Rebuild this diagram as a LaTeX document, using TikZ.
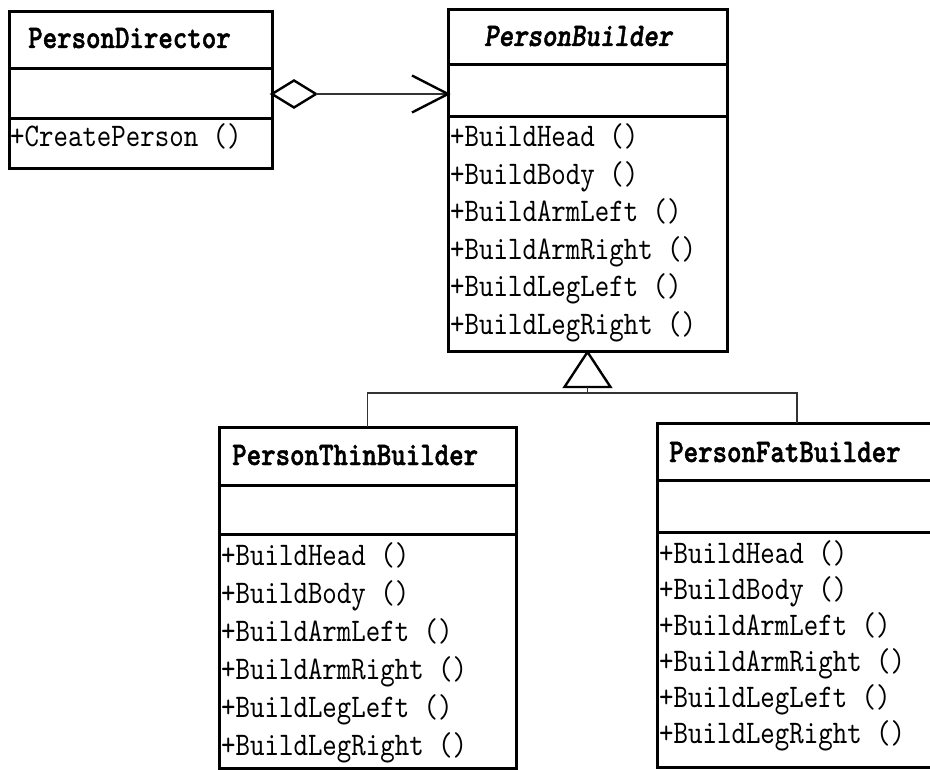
\documentclass[tikz,border=0pt]{standalone}
\usepackage{fontspec}
\newfontfamily\umlfont[Extension=.otf, FakeStretch=0.835,
  UprightFont=lmmono10-regular, ItalicFont=lmmono10-italic,
  BoldFont=lmmonolt10-bold, BoldItalicFont=lmmonolt10-boldoblique]{lmmono10-regular}
\newfontfamily\umltitle[Extension=.otf, FakeStretch=0.835, FakeBold=1.5,
  UprightFont=lmmonolt10-bold, ItalicFont=lmmonolt10-boldoblique]{lmmonolt10-bold}
\usetikzlibrary{calc}
\begin{document}
\begin{tikzpicture}[x=1pt,y=-1pt,
  comp/.style={draw, line width=3pt, rectangle, inner sep=0pt, outer sep=0pt, anchor=north west},
  ttl/.style={anchor=base west, inner sep=0pt, font=\umltitle\fontsize{33}{38}\selectfont},
  meth/.style={anchor=base west, inner sep=0pt, font=\umlfont\fontsize{33}{38}\selectfont},
  conn/.style={line width=1.6pt, draw=black!80},
  headline/.style={line width=2.4pt, line join=miter, line cap=butt}]
\useasboundingbox (0,0) rectangle (930,770);

% PersonDirector
\node[comp, minimum width=263pt, minimum height=57pt] (dirT) at (9,12) {};
\node[comp, minimum width=263pt, minimum height=50pt] (dirA) at (9,69) {};
\node[comp, minimum width=263pt, minimum height=50pt] (dirO) at (9,119) {};
\node[ttl] (dirName) at (28,48) {PersonDirector};
\node[meth] (dm1) at (10,147) {+CreatePerson ()};

% PersonBuilder
\node[comp, minimum width=279pt, minimum height=55pt] (bldT) at (448,10) {};
\node[comp, minimum width=279pt, minimum height=52pt] (bldA) at (448,65) {};
\node[comp, minimum width=279pt, minimum height=235pt] (bldO) at (448,117) {};
\node[ttl, font=\umltitle\fontsize{33}{38}\selectfont\itshape] (bldName) at (484,46) {PersonBuilder};
\foreach \t [count=\i] in {+BuildHead (),+BuildBody (),+BuildArmLeft (),+BuildArmRight (),+BuildLegLeft (),+BuildLegRight ()}
  \node[meth] (bm\i) at (450,{147+37.5*(\i-1)}) {\t};

% PersonThinBuilder
\node[comp, minimum width=297pt, minimum height=58pt] (thinT) at (219,427) {};
\node[comp, minimum width=297pt, minimum height=49pt] (thinA) at (219,485) {};
\node[comp, minimum width=297pt, minimum height=234pt] (thinO) at (219,534) {};
\node[ttl] (thinName) at (232,465) {PersonThinBuilder};
\foreach \t [count=\i] in {+BuildHead (),+BuildBody (),+BuildArmLeft (),+BuildArmRight (),+BuildLegLeft (),+BuildLegRight ()}
  \node[meth] (tm\i) at (221,{565+38*(\i-1)}) {\t};

% PersonFatBuilder
\node[comp, minimum width=280pt, minimum height=57pt] (fatT) at (657,423) {};
\node[comp, minimum width=280pt, minimum height=52pt] (fatA) at (657,480) {};
\node[comp, minimum width=280pt, minimum height=235pt] (fatO) at (657,532) {};
\node[ttl] (fatName) at (669,462) {PersonFatBuilder};
\foreach \t [count=\i] in {+BuildHead (),+BuildBody (),+BuildArmLeft (),+BuildArmRight (),+BuildLegLeft (),+BuildLegRight ()}
  \node[meth] (fm\i) at (659,{563+36*(\i-1)}) {\t};

% aggregation: PersonDirector -> PersonBuilder
\coordinate (aggEnd) at (dirA.east -| bldA.west);
\draw[headline, fill=white] (dirA.east) -- ++(22,-13.5) -- ++(22,13.5) -- ++(-22,13.5) -- cycle;
\draw[conn] ($(dirA.east)+(44,0)$) -- (aggEnd);
\draw[headline] ($(aggEnd)+(-36,-18.5)$) -- (aggEnd) -- ++(-36,18.5);

% generalization
\draw[headline, fill=white] (bldO.south) -- ++(-23,35) -- ++(46,0) -- cycle;
\coordinate (gen) at ($(bldO.south)+(0,41)$);
\draw[conn] ($(bldO.south)+(0,35)$) -- (gen);
\draw[conn] (thinT.north) |- (gen) -| (fatT.north);
\end{tikzpicture}
\end{document}
